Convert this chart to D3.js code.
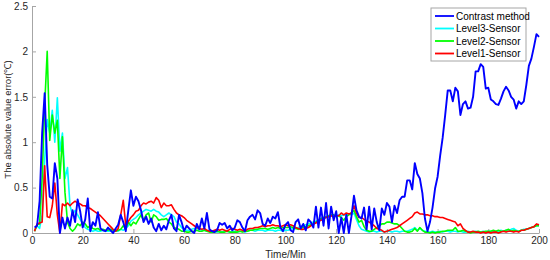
<!DOCTYPE html>
<meta charset="utf-8">
<style>
  body { margin: 0; background: #fff; }
  text { font-family: "Liberation Sans", Arial, sans-serif; }
</style>
<svg width="550" height="260"></svg>
<script src="https://d3js.org/d3.v7.min.js"></script>
<script>
// time axis, one sample per minute
var times = d3.range(1, 201)

var xTicks = [0, 20, 40, 60, 80, 100, 120, 140, 160, 180, 200]
var yTicks = [0, 0.5, 1, 1.5, 2, 2.5]

var contrastErr = [
  0.06, 0.08, 0.35, 1.1, 1.54, 0.75, 0.4, 0.38, 0.77, 0.6,
  0.0, 0.17, 0.05, 0.17, 0.08, 0.25, 0.12, 0.37, 0.24, 0.06,
  0.15, 0.38, 0.02, 0.12, 0.08, 0.23, 0.05, 0.03, 0.02, 0.06,
  0.03, 0.0, 0.05, 0.09, 0.2, 0.12, 0.02, 0.25, 0.47, 0.3,
  0.4, 0.35, 0.25, 0.12, 0.18, 0.1, 0.16, 0.06, 0.02, 0.1,
  0.03, 0.08, 0.04, 0.14, 0.2, 0.05, 0.02, 0.2, 0.12, 0.02,
  0.08, 0.05, 0.02, 0.0, 0.1, 0.04, 0.16, 0.05, 0.22, 0.04,
  0.02, 0.01, 0.03, 0.11, 0.09, 0.11, 0.05, 0.08, 0.03, 0.06,
  0.14, 0.12, 0.06, 0.02, 0.14, 0.18, 0.2, 0.15, 0.25, 0.22,
  0.1, 0.08, 0.16, 0.11, 0.18, 0.16, 0.23, 0.06, 0.02, 0.09,
  0.12, 0.03, 0.01, 0.12, 0.15, 0.05, 0.1, 0.03, 0.15, 0.12,
  0.06, 0.29, 0.06, 0.28, 0.08, 0.33, 0.05, 0.29, 0.14, 0.24,
  0.0, 0.17, 0.0, 0.2, 0.0, 0.18, 0.41, 0.25, 0.18, 0.16,
  0.28, 0.04, 0.29, 0.04, 0.27, 0.12, 0.03, 0.27, 0.2, 0.33,
  0.29, 0.12, 0.3, 0.22, 0.36, 0.4, 0.4, 0.58, 0.58, 0.48,
  0.77, 0.65, 0.6, 0.44, 0.16, 0.02, 0.12, 0.28, 0.49, 0.62,
  0.85, 1.05, 1.3, 1.57, 1.57, 1.45, 1.6, 1.56, 1.3, 1.42,
  1.45, 1.37, 1.38, 1.5, 1.78, 1.78, 1.86, 1.83, 1.59, 1.6,
  1.47, 1.45, 1.42, 1.41, 1.48, 1.56, 1.61, 1.57, 1.5, 1.47,
  1.37, 1.45, 1.42, 1.45, 1.63, 1.84, 1.92, 2.05, 2.19, 2.16
]

var level3Err = [
  0.02, 0.08, 0.05, 0.2, 0.8, 1.25, 1.1, 1.35, 1.0, 1.49,
  0.9, 1.1, 0.6, 0.72, 0.3, 0.2, 0.25, 0.2, 0.15, 0.1,
  0.06, 0.04, 0.03, 0.02, 0.03, 0.02, 0.02, 0.03, 0.02, 0.02,
  0.02, 0.02, 0.03, 0.02, 0.04, 0.03, 0.05, 0.08, 0.13, 0.15,
  0.17, 0.2, 0.22, 0.24, 0.26, 0.25, 0.24, 0.26, 0.24, 0.23,
  0.2, 0.18, 0.2, 0.22, 0.2, 0.18, 0.12, 0.1, 0.06, 0.04,
  0.03, 0.03, 0.04, 0.05, 0.05, 0.04, 0.03, 0.03, 0.02, 0.02,
  0.02, 0.02, 0.01, 0.02, 0.01, 0.02, 0.02, 0.01, 0.02, 0.02,
  0.01, 0.02, 0.02, 0.01, 0.02, 0.03, 0.03, 0.02, 0.03, 0.03,
  0.03, 0.02, 0.03, 0.03, 0.03, 0.02, 0.03, 0.03, 0.02, 0.03,
  0.03, 0.04, 0.05, 0.05, 0.06, 0.07, 0.08, 0.09, 0.1, 0.11,
  0.12, 0.13, 0.14, 0.15, 0.16, 0.17, 0.18, 0.19, 0.18, 0.19,
  0.2, 0.19, 0.2, 0.2, 0.21, 0.2, 0.22, 0.15, 0.08, 0.04,
  0.03, 0.02, 0.01, 0.02, 0.02, 0.01, 0.02, 0.02, 0.01, 0.02,
  0.02, 0.01, 0.02, 0.02, 0.01, 0.02, 0.02, 0.02, 0.03, 0.04,
  0.06, 0.03, 0.05, 0.03, 0.02, 0.01, 0.01, 0.02, 0.01, 0.01,
  0.02, 0.01, 0.02, 0.02, 0.01, 0.02, 0.02, 0.01, 0.02, 0.01,
  0.01, 0.02, 0.01, 0.01, 0.02, 0.01, 0.01, 0.02, 0.01, 0.02,
  0.02, 0.01, 0.02, 0.02, 0.03, 0.02, 0.03, 0.02, 0.04, 0.05,
  0.03, 0.02, 0.03, 0.04, 0.04, 0.05, 0.06, 0.07, 0.08, 0.08
]

var level2Err = [
  0.02, 0.09, 0.1, 0.6, 1.4, 2.0, 1.02, 1.3, 1.1, 1.24,
  0.6, 1.06, 0.45, 0.12, 0.05, 0.02, 0.05, 0.1, 0.08, 0.12,
  0.1, 0.06, 0.08, 0.05, 0.04, 0.05, 0.03, 0.04, 0.03, 0.03,
  0.04, 0.03, 0.02, 0.03, 0.04, 0.08, 0.05, 0.12, 0.08, 0.12,
  0.1, 0.15, 0.2, 0.14, 0.2, 0.22, 0.12, 0.2, 0.18, 0.14,
  0.15, 0.15, 0.16, 0.12, 0.1, 0.06, 0.05, 0.04, 0.02, 0.02,
  0.01, 0.01, 0.02, 0.02, 0.03, 0.02, 0.02, 0.03, 0.02, 0.01,
  0.01, 0.01, 0.02, 0.01, 0.01, 0.01, 0.02, 0.01, 0.01, 0.01,
  0.01, 0.02, 0.01, 0.02, 0.02, 0.03, 0.03, 0.04, 0.04, 0.05,
  0.05, 0.05, 0.04, 0.05, 0.06, 0.05, 0.06, 0.05, 0.06, 0.06,
  0.06, 0.07, 0.06, 0.05, 0.04, 0.05, 0.06, 0.07, 0.08, 0.09,
  0.1, 0.12, 0.14, 0.16, 0.17, 0.18, 0.19, 0.2, 0.2, 0.18,
  0.19, 0.17, 0.14, 0.18, 0.2, 0.22, 0.25, 0.18, 0.12, 0.14,
  0.07, 0.03, 0.02, 0.02, 0.04, 0.06, 0.08, 0.1, 0.1, 0.12,
  0.12, 0.11, 0.1, 0.1, 0.08, 0.05, 0.02, 0.01, 0.01, 0.02,
  0.05, 0.02, 0.06, 0.03, 0.01, 0.01, 0.0, 0.01, 0.0, 0.01,
  0.01, 0.02, 0.02, 0.03, 0.03, 0.03, 0.06, 0.02, 0.02, 0.03,
  0.02, 0.01, 0.0, 0.01, 0.01, 0.02, 0.01, 0.01, 0.02, 0.02,
  0.02, 0.03, 0.02, 0.03, 0.02, 0.02, 0.03, 0.04, 0.02, 0.03,
  0.02, 0.02, 0.03, 0.03, 0.04, 0.05, 0.06, 0.07, 0.08, 0.08
]

var level1Err = [
  0.02, 0.1, 0.11, 0.12, 0.74, 0.18, 0.17, 0.3, 0.55, 0.2,
  0.0, 0.32, 0.3, 0.33, 0.3, 0.33, 0.35, 0.33, 0.32, 0.3,
  0.3, 0.28, 0.27, 0.25, 0.23, 0.21, 0.19, 0.16, 0.13, 0.1,
  0.07, 0.04, 0.02, 0.05, 0.2, 0.36, 0.08, 0.13, 0.17, 0.2,
  0.24, 0.25, 0.3, 0.33, 0.32, 0.34, 0.35, 0.33, 0.39, 0.36,
  0.28, 0.33, 0.3, 0.3, 0.31, 0.26, 0.22, 0.2, 0.19, 0.17,
  0.14, 0.12, 0.1, 0.08, 0.06, 0.05, 0.04, 0.05, 0.03, 0.02,
  0.02, 0.03, 0.04, 0.03, 0.04, 0.03, 0.02, 0.04, 0.05, 0.04,
  0.03, 0.04, 0.03, 0.02, 0.04, 0.05, 0.05, 0.06, 0.06, 0.07,
  0.08, 0.07, 0.08, 0.08, 0.09, 0.08, 0.08, 0.07, 0.08, 0.09,
  0.08, 0.09, 0.08, 0.06, 0.05, 0.04, 0.04, 0.05, 0.06, 0.08,
  0.1, 0.11, 0.13, 0.14, 0.16, 0.17, 0.18, 0.19, 0.18, 0.19,
  0.19, 0.22, 0.2, 0.22, 0.21, 0.22, 0.3, 0.22, 0.17, 0.17,
  0.15, 0.13, 0.12, 0.1, 0.08, 0.05, 0.04, 0.03, 0.01, 0.02,
  0.03, 0.04, 0.05, 0.06, 0.08, 0.1, 0.12, 0.14, 0.16, 0.18,
  0.22, 0.23, 0.21, 0.21, 0.2, 0.2, 0.19, 0.19, 0.18, 0.18,
  0.17, 0.17, 0.16, 0.15, 0.14, 0.13, 0.12, 0.08, 0.1, 0.05,
  0.03, 0.01, 0.01, 0.02, 0.01, 0.01, 0.0, 0.01, 0.0, 0.01,
  0.0, 0.01, 0.01, 0.0, 0.01, 0.02, 0.01, 0.02, 0.02, 0.01,
  0.02, 0.01, 0.03, 0.03, 0.04, 0.05, 0.06, 0.07, 0.1, 0.09
]

var seriesNames = ['Contrast method', 'Level3-Sensor', 'Level2-Sensor', 'Level1-Sensor']
var seriesColors = ['#0000ff', '#00ffff', '#00ff00', '#ff0000']
var seriesValues = [contrastErr, level3Err, level2Err, level1Err]

var svg = d3.select('svg')
var margin = { left: 32, right: 11, top: 6, bottom: 27 }
var width = 550 - margin.left - margin.right
var height = 260 - margin.top - margin.bottom

var x = d3.scaleLinear().domain([0, 200]).range([0, width])
var y = d3.scaleLinear().domain([0, 2.5]).range([height, 0])

var g = svg.append('g').attr('transform', 'translate(' + margin.left + ',' + margin.top + ')')

// axes, matlab style with ticks pointing inward
g.append('g')
  .attr('transform', 'translate(0,' + height + ')')
  .call(d3.axisBottom(x).tickValues(xTicks).tickSizeInner(-4).tickSizeOuter(0).tickPadding(4).tickFormat(d3.format('d')))
g.append('g')
  .call(d3.axisLeft(y).tickValues(yTicks).tickSizeInner(-4).tickSizeOuter(0).tickPadding(4).tickFormat(function (d) { return String(d) }))

g.selectAll('.domain').attr('stroke', '#a6a6a6')
g.selectAll('.tick line').attr('stroke', '#a6a6a6')
g.selectAll('.tick text').attr('fill', '#262626').attr('font-size', 10)
  .attr('font-family', '"Liberation Sans", Arial, sans-serif')

// lines, drawn so the contrast method sits on top
var line = d3.line()
  .x(function (d, i) { return x(times[i]) })
  .y(function (d) { return y(d) })

var drawOrder = [1, 2, 3, 0]
drawOrder.forEach(function (k) {
  g.append('path')
    .datum(seriesValues[k])
    .attr('fill', 'none')
    .attr('stroke', seriesColors[k])
    .attr('stroke-width', k === 0 ? 1.9 : 1.6)
    .attr('stroke-linejoin', 'round')
    .attr('d', line)
})

// axis titles
svg.append('text')
  .attr('x', margin.left + width / 2)
  .attr('y', 258)
  .attr('text-anchor', 'middle')
  .attr('font-size', 10)
  .attr('fill', '#262626')
  .text('Time/Min')

svg.append('text')
  .attr('transform', 'translate(11,' + (margin.top + height / 2) + ') rotate(-90)')
  .attr('text-anchor', 'middle')
  .attr('font-size', 9.5)
  .attr('fill', '#262626')
  .text('The absolute value error(℃)')

// legend
var legend = svg.append('g').attr('transform', 'translate(431,8)')
legend.append('rect')
  .attr('width', 95).attr('height', 53)
  .attr('fill', '#fff').attr('stroke', '#a6a6a6')

seriesNames.forEach(function (name, i) {
  var row = legend.append('g').attr('transform', 'translate(0,' + (8 + i * 12.5) + ')')
  row.append('line')
    .attr('x1', 4).attr('x2', 23)
    .attr('stroke', seriesColors[i]).attr('stroke-width', 1.8)
  row.append('text')
    .attr('x', 25).attr('dy', '0.35em')
    .attr('font-size', 10)
    .attr('fill', '#000')
    .text(name)
})
</script>
